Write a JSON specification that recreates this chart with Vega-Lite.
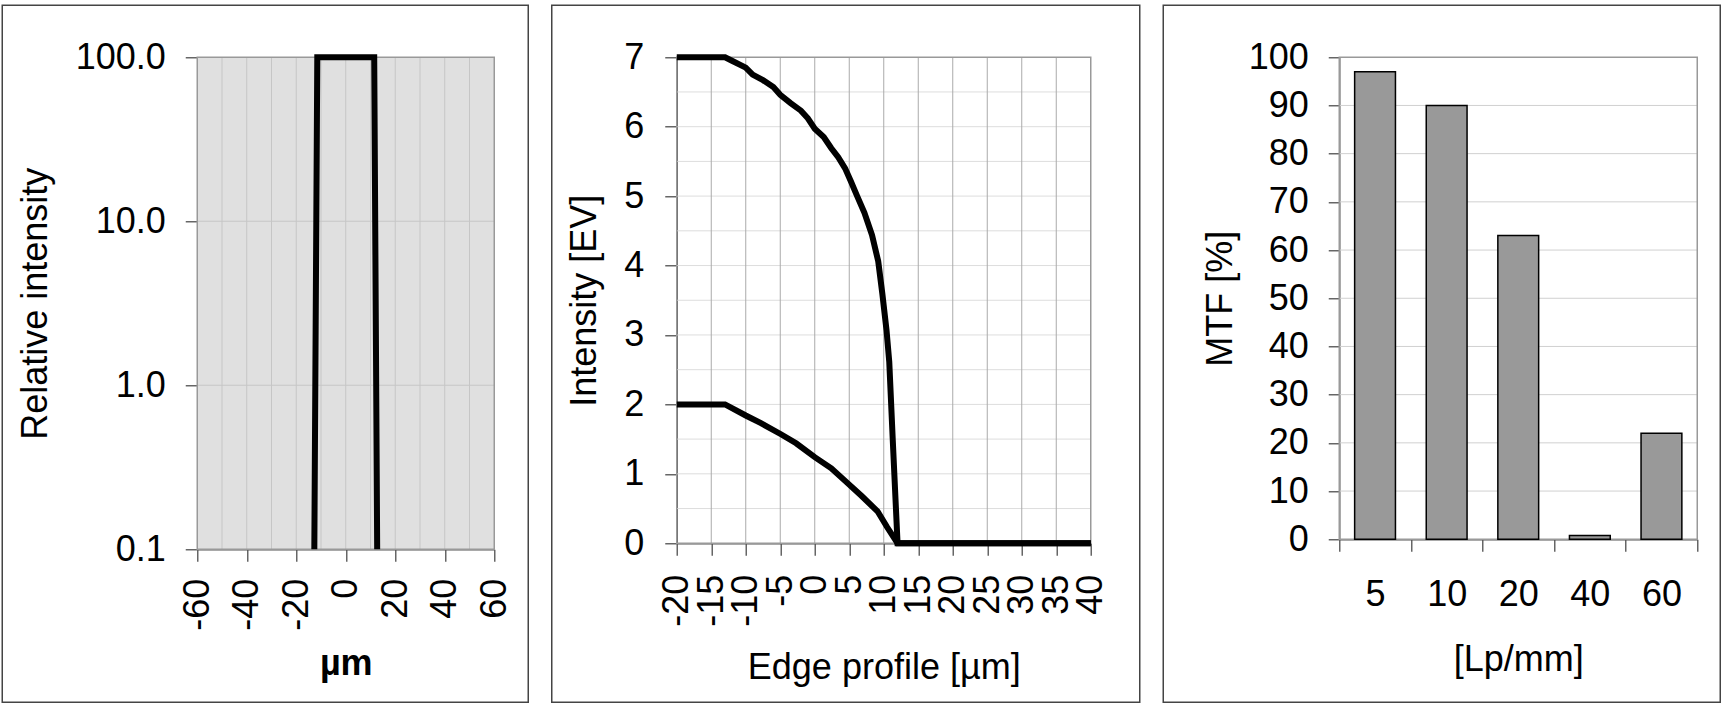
{
  "$schema": "https://vega.github.io/schema/vega-lite/v6.json",
  "padding": {"left": 1.25, "top": 4.25, "right": 0, "bottom": 0},
  "background": "white",
  "config": {
    "font": "Liberation Sans",
    "view": {"stroke": "#444444", "strokeWidth": 1.5},
    "concat": {"spacing": 21.5},
    "axis": {
      "labelFont": "Liberation Sans", "titleFont": "Liberation Sans",
      "labelFontSize": 36, "titleFontSize": 36,
      "labelColor": "black", "titleColor": "black", "titleFontWeight": "normal",
      "domainColor": "#555555", "domainWidth": 1.5,
      "tickColor": "#666666", "tickWidth": 1.5, "tickSize": 12,
      "grid": false, "zindex": 1,
      "labelFlush": false, "labelOverlap": false, "labelBound": false
    }
  },
  "datasets": {
    "psf": [
      {"um": -12.7, "rel": 0.1},
      {"um": -11.5, "rel": 100},
      {"um": 11.5, "rel": 100},
      {"um": 12.7, "rel": 0.1}
    ],
    "grid1x": [{"v": -50}, {"v": -40}, {"v": -30}, {"v": -20}, {"v": -10}, {"v": 0}, {"v": 10}, {"v": 20}, {"v": 30}, {"v": 40}, {"v": 50}],
    "grid1y": [{"v": 1}, {"v": 10}],
    "edge": [
      {"s": "a", "x": -20, "ev": 7}, {"s": "a", "x": -13, "ev": 7}, {"s": "a", "x": -12, "ev": 6.95},
      {"s": "a", "x": -10, "ev": 6.85}, {"s": "a", "x": -9, "ev": 6.75}, {"s": "a", "x": -7.5, "ev": 6.67},
      {"s": "a", "x": -6, "ev": 6.57}, {"s": "a", "x": -5, "ev": 6.46}, {"s": "a", "x": -3.5, "ev": 6.34},
      {"s": "a", "x": -2, "ev": 6.23}, {"s": "a", "x": -1, "ev": 6.12}, {"s": "a", "x": 0, "ev": 5.97},
      {"s": "a", "x": 1.3, "ev": 5.85}, {"s": "a", "x": 2.4, "ev": 5.69}, {"s": "a", "x": 3.4, "ev": 5.56},
      {"s": "a", "x": 4.4, "ev": 5.4}, {"s": "a", "x": 5.2, "ev": 5.22}, {"s": "a", "x": 6.1, "ev": 5.01},
      {"s": "a", "x": 7.2, "ev": 4.76}, {"s": "a", "x": 8.3, "ev": 4.44}, {"s": "a", "x": 9.2, "ev": 4.06},
      {"s": "a", "x": 9.8, "ev": 3.59}, {"s": "a", "x": 10.4, "ev": 3.07}, {"s": "a", "x": 10.8, "ev": 2.61},
      {"s": "a", "x": 11.3, "ev": 1.5}, {"s": "a", "x": 12, "ev": 0}, {"s": "a", "x": 40, "ev": 0},
      {"s": "b", "x": -20, "ev": 2}, {"s": "b", "x": -13, "ev": 2}, {"s": "b", "x": -10, "ev": 1.84},
      {"s": "b", "x": -7.8, "ev": 1.73}, {"s": "b", "x": -4.9, "ev": 1.57}, {"s": "b", "x": -2.7, "ev": 1.44},
      {"s": "b", "x": 0, "ev": 1.24}, {"s": "b", "x": 2.4, "ev": 1.08}, {"s": "b", "x": 4.6, "ev": 0.88},
      {"s": "b", "x": 6.8, "ev": 0.68}, {"s": "b", "x": 9.1, "ev": 0.46}, {"s": "b", "x": 10.5, "ev": 0.23},
      {"s": "b", "x": 12, "ev": 0}, {"s": "b", "x": 40, "ev": 0}
    ],
    "grid2x": [{"v": -15}, {"v": -10}, {"v": -5}, {"v": 0}, {"v": 5}, {"v": 10}, {"v": 15}, {"v": 20}, {"v": 25}, {"v": 30}, {"v": 35}],
    "grid2y": [{"v": 0.5}, {"v": 1}, {"v": 1.5}, {"v": 2}, {"v": 2.5}, {"v": 3}, {"v": 3.5}, {"v": 4}, {"v": 4.5}, {"v": 5}, {"v": 5.5}, {"v": 6}, {"v": 6.5}],
    "mtf": [
      {"lp": "5", "mtf": 97},
      {"lp": "10", "mtf": 90},
      {"lp": "20", "mtf": 63},
      {"lp": "40", "mtf": 0.8},
      {"lp": "60", "mtf": 22}
    ],
    "grid3y": [{"v": 10}, {"v": 20}, {"v": 30}, {"v": 40}, {"v": 50}, {"v": 60}, {"v": 70}, {"v": 80}, {"v": 90}]
  },
  "hconcat": [
    {
      "width": 526,
      "height": 697,
      "layer": [
        {
          "data": {"values": [{}]},
          "mark": {"type": "rect", "fill": "#e0e0e0"},
          "encoding": {
            "x": {
              "datum": -60, "type": "quantitative",
              "scale": {"domain": [-60, 60], "range": [195, 492], "nice": false, "zero": false},
              "axis": {
                "orient": "bottom", "offset": -153,
                "values": [-60, -40, -20, 0, 20, 40, 60],
                "labelExpr": "datum.value < 0 ? '-' + abs(datum.value) : '' + datum.value",
                "labelAngle": 270, "labelPadding": 17,
                "title": "µm", "titleFontWeight": "bold", "titlePadding": 16
              }
            },
            "x2": {"datum": 60},
            "y": {
              "datum": 0.1, "type": "quantitative",
              "scale": {"type": "log", "domain": [0.1, 100], "range": [544, 52], "nice": false},
              "axis": {
                "orient": "left", "offset": -195,
                "values": [0.1, 1, 10, 100], "format": ".1f",
                "labelPadding": 20,
                "title": "Relative intensity", "titlePadding": 21
              }
            },
            "y2": {"datum": 100}
          }
        },
        {
          "data": {"name": "grid1x"},
          "mark": {"type": "rule", "color": "#c6c6c6", "strokeWidth": 1},
          "encoding": {
            "x": {"field": "v", "type": "quantitative"},
            "y": {"datum": 0.1, "type": "quantitative"},
            "y2": {"datum": 100}
          }
        },
        {
          "data": {"name": "grid1y"},
          "mark": {"type": "rule", "color": "#c6c6c6", "strokeWidth": 1},
          "encoding": {
            "y": {"field": "v", "type": "quantitative"},
            "x": {"datum": -60, "type": "quantitative"},
            "x2": {"datum": 60}
          }
        },
        {
          "data": {"values": [{}]},
          "mark": {"type": "rect", "fillOpacity": 0, "stroke": "#999999", "strokeWidth": 1.5},
          "encoding": {
            "x": {"datum": -60, "type": "quantitative"},
            "x2": {"datum": 60},
            "y": {"datum": 0.1, "type": "quantitative"},
            "y2": {"datum": 100}
          }
        },
        {
          "data": {"name": "psf"},
          "mark": {"type": "line", "color": "black", "strokeWidth": 6},
          "encoding": {
            "x": {"field": "um", "type": "quantitative"},
            "y": {"field": "rel", "type": "quantitative"}
          }
        }
      ]
    },
    {
      "width": 588,
      "height": 697,
      "layer": [
        {
          "data": {"name": "grid2y"},
          "mark": {"type": "rule", "color": "#dddddd", "strokeWidth": 1},
          "encoding": {
            "y": {
              "field": "v", "type": "quantitative",
              "scale": {"domain": [0, 7], "range": [538, 52], "nice": false, "zero": false},
              "axis": {
                "orient": "left", "offset": -125,
                "values": [0, 1, 2, 3, 4, 5, 6, 7], "format": "d",
                "labelPadding": 21,
                "title": "Intensity [EV]", "titlePadding": 20
              }
            },
            "x": {
              "datum": -20, "type": "quantitative",
              "scale": {"domain": [-20, 40], "range": [125, 539], "nice": false, "zero": false},
              "axis": {
                "orient": "bottom", "offset": -159,
                "values": [-20, -15, -10, -5, 0, 5, 10, 15, 20, 25, 30, 35, 40],
                "labelExpr": "datum.value < 0 ? '-' + abs(datum.value) : '' + datum.value",
                "labelAngle": 270, "labelPadding": 19,
                "title": "Edge profile [µm]", "titlePadding": 24
              }
            },
            "x2": {"datum": 40}
          }
        },
        {
          "data": {"name": "grid2x"},
          "mark": {"type": "rule", "color": "#aaaaaa", "strokeWidth": 1},
          "encoding": {
            "x": {"field": "v", "type": "quantitative"},
            "y": {"datum": 0, "type": "quantitative"},
            "y2": {"datum": 7}
          }
        },
        {
          "data": {"values": [{}]},
          "mark": {"type": "rect", "fillOpacity": 0, "stroke": "#999999", "strokeWidth": 1.5},
          "encoding": {
            "x": {"datum": -20, "type": "quantitative"},
            "x2": {"datum": 40},
            "y": {"datum": 0, "type": "quantitative"},
            "y2": {"datum": 7}
          }
        },
        {
          "data": {"name": "edge"},
          "mark": {"type": "line", "color": "black", "strokeWidth": 6},
          "encoding": {
            "x": {"field": "x", "type": "quantitative"},
            "y": {"field": "ev", "type": "quantitative"},
            "detail": {"field": "s"}
          }
        }
      ]
    },
    {
      "width": 557,
      "height": 697,
      "resolve": {"scale": {"x": "independent"}},
      "layer": [
        {
          "data": {"name": "grid3y"},
          "mark": {"type": "rule", "color": "#d0d0d0", "strokeWidth": 1},
          "encoding": {
            "y": {"field": "v", "type": "quantitative"},
            "x": {
              "datum": 0, "type": "quantitative",
              "scale": {"domain": [0, 1], "range": [176, 534], "nice": false, "zero": false},
              "axis": null
            },
            "x2": {"datum": 1}
          }
        },
        {
          "data": {"values": [{}]},
          "mark": {"type": "rect", "fillOpacity": 0, "stroke": "#999999", "strokeWidth": 1.5},
          "encoding": {
            "x": {
              "datum": 0, "type": "quantitative",
              "scale": {"domain": [0, 1], "range": [176, 534], "nice": false, "zero": false},
              "axis": null
            },
            "x2": {"datum": 1},
            "y": {"datum": 0, "type": "quantitative"},
            "y2": {"datum": 100}
          }
        },
        {
          "data": {"name": "mtf"},
          "mark": {"type": "bar", "fill": "#999999", "stroke": "black", "strokeWidth": 1.5, "width": {"band": 0.57}},
          "encoding": {
            "x": {
              "field": "lp", "type": "nominal", "sort": null,
              "scale": {"type": "band", "range": [176, 534], "paddingInner": 0, "paddingOuter": 0},
              "axis": {
                "orient": "bottom", "offset": -163,
                "tickBand": "extent",
                "labelAngle": 0, "labelPadding": 26,
                "title": "[Lp/mm]", "titlePadding": 30
              }
            },
            "y": {
              "field": "mtf", "type": "quantitative",
              "scale": {"domain": [0, 100], "range": [534, 52], "nice": false},
              "axis": {
                "orient": "left", "offset": -176,
                "values": [0, 10, 20, 30, 40, 50, 60, 70, 80, 90, 100],
                "tickSize": 11, "labelPadding": 20,
                "title": "MTF [%]", "titlePadding": 9
              }
            }
          }
        }
      ]
    }
  ]
}
